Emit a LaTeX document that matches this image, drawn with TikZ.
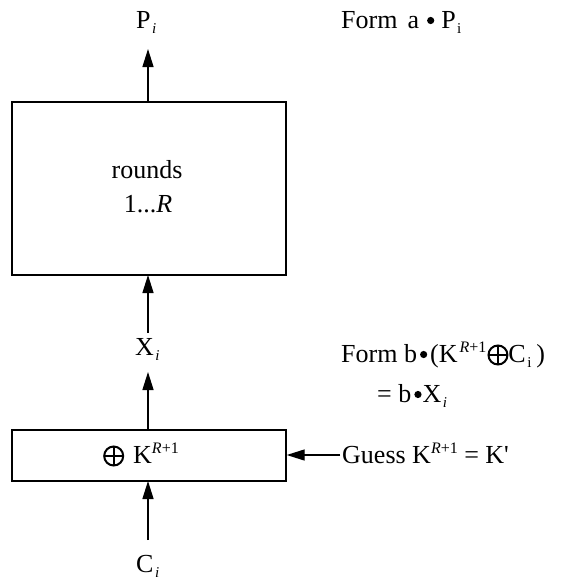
\documentclass[tikz,border=0pt]{standalone}
\usepackage{fontspec}
\setmainfont{Liberation Serif}
\newfontfamily\nomapfont{Liberation Serif}[Ligatures=ResetAll]
\usetikzlibrary{arrows.meta}
\newcommand{\sbi}[1]{\hspace{1.5pt}\raisebox{-5pt}{\fontsize{15}{15}\selectfont #1}}
\newcommand{\spi}[1]{\raisebox{10pt}{\fontsize{16}{16}\selectfont #1}}
\newcommand{\bul}{\tikz[baseline]\fill (0,7.5pt) circle (3.6pt);}
\newcommand{\xorsym}{\tikz[baseline]{\draw[line width=2pt] (0,7pt) circle (9.5pt); \draw[line width=1.8pt] (-9.5pt,7pt)--(9.5pt,7pt) (0,-2.5pt)--(0,16.5pt);}}
\begin{document}
\begin{tikzpicture}[x=1pt,y=-1pt,
  every node/.style={font=\fontsize{26}{34}\selectfont},
  txt/.style={inner sep=0pt,anchor=base west},
  ctxt/.style={inner sep=0pt,anchor=base},
  blk/.style={draw,line width=1.4pt},
  arr/.style={line width=1.4pt,-{Triangle[length=18pt,width=11pt]}}]
\useasboundingbox (0,0) rectangle (582,584);
% left column
\node[txt] (P) at (136,28) {P\sbi{\textit{i}}};
\node[blk,minimum width=274pt,minimum height=173pt,inner sep=0pt] (R) at (149,188.5) {};
\node[ctxt] (Rt1) at (147,178) {rounds};
\node[ctxt] (Rt2) at (148,212) {1...\textit{R}};
\node[txt] (X) at (135,355) {X\sbi{\textit{i}}};
\node[blk,minimum width=274pt,minimum height=51pt,inner sep=0pt] (K) at (149,455.5) {};
\node[txt] (Kt) at (103,463) {\xorsym\hspace{9pt}K\spi{\textit{R}+1}};
\node[txt] (C) at (136,572) {C\sbi{\textit{i}}};
\coordinate (Rtop) at (148,102);
\coordinate (Rbot) at (148,275);
\coordinate (Ktop) at (148,430);
\coordinate (Kbot) at (148,481);
\coordinate (Ptail) at (148,49);
\coordinate (Xtop) at (148,333);
\coordinate (Xbot) at (148,372);
\coordinate (Ctop) at (148,540);
\draw[arr] (Rtop) -- (Ptail);
\draw[arr] (Xtop) -- (Rbot);
\draw[arr] (Ktop) -- (Xbot);
\draw[arr] (Ctop) -- (Kbot);
% right column
\node[txt] (Fa) at (341,28) {Form\hspace{10pt}a\hspace{8pt}\bul\hspace{7pt}P\sbi{i}};
\node[txt] (Fb) at (341,362) {Form b\hspace{3pt}\bul\hspace{3pt}(K\hspace{2pt}\spi{\textit{R}+1}\hspace{1pt}\xorsym\hspace{0pt}C\sbi{i}\hspace{5pt})};
\node[txt] (Fc) at (377,402) {= b\hspace{3pt}\bul\hspace{1pt}X\sbi{\textit{i}}};
\node[txt] (G) at (342,463) {Guess K\spi{\textit{R}+1} = K{\nomapfont '}};
\coordinate (Gw) at (340,455);
\draw[arr] (Gw) -- (K.east |- Gw);
\end{tikzpicture}
\end{document}
